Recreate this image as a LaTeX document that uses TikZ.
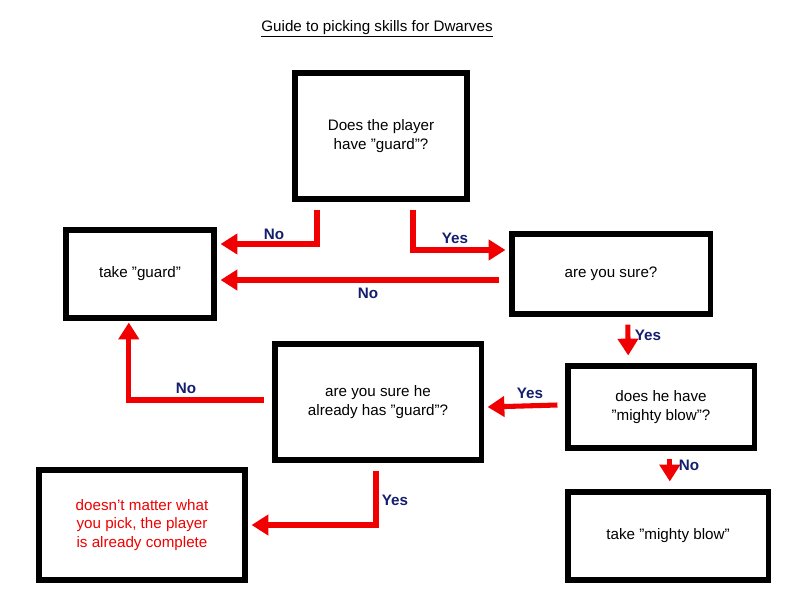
\documentclass[tikz,border=0pt]{standalone}
\usepackage{fontspec}
\setmainfont[Ligatures=TeX]{Liberation Sans}
\usetikzlibrary{arrows.meta}
\definecolor{flow-red}{RGB}{240,0,0}
\definecolor{label-blue}{RGB}{20,30,110}
\newcommand{\dq}{\symbol{34}}
\begin{document}
\begin{tikzpicture}[
    x=0.025cm, y=-0.025cm,
    question box/.style={
        draw=black,
        line width=3.6pt,
        fill=white,
        align=center,
        font=\fontsize{10.8}{13}\selectfont,
        inner sep=2pt
    },
    flow arrow/.style={
        draw=flow-red,
        line width=3.6pt,
        -{Triangle[length=0.42cm,width=0.5cm]}
    },
    answer label/.style={font=\fontsize{10.8}{13}\selectfont\bfseries, text=label-blue}
]
\useasboundingbox (0,0) rectangle (800,600);

% Title
\node[font=\fontsize{10.8}{13}\selectfont] (title) at (377,29) {\underline{Guide to picking skills for Dwarves}};

% Boxes
\node[question box, minimum width=4.3cm, minimum height=3.15cm] (start) at (381,136) {Does the player\\have \dq guard\dq?};
\node[question box, minimum width=3.7cm, minimum height=2.2cm] (guard) at (140,274) {take \dq guard\dq};
\node[question box, minimum width=4.95cm, minimum height=2.0cm] (sure) at (611,274) {are you sure?};
\node[question box, minimum width=5.15cm, minimum height=2.9cm] (surehe) at (378,402) {are you sure he\\already has \dq guard\dq?};
\node[question box, minimum width=4.65cm, minimum height=2.05cm] (blowq) at (661,407) {does he have\\\dq mighty blow\dq?};
\node[question box, minimum width=5.0cm, minimum height=2.2cm] (blow) at (668,536) {take \dq mighty blow\dq};
\node[question box, minimum width=5.15cm, minimum height=2.75cm, text=flow-red] (complete) at (142,525) {doesn't matter what\\you pick, the player\\is already complete};

% Connectors
\draw[flow arrow] ([xshift=-1.6cm,yshift=-0.2cm]start.south) |- ([xshift=0.1cm,yshift=0.75cm]guard.east);
\node[answer label] (no1) at (274,234) {No};
\draw[flow arrow] ([xshift=0.8cm,yshift=-0.2cm]start.south) |- ([xshift=-0.1cm,yshift=0.6cm]sure.west);
\node[answer label] (yes1) at (455,238) {Yes};
\draw[flow arrow] ([xshift=-0.25cm,yshift=-0.15cm]sure.west) -- ([xshift=0.1cm,yshift=-0.15cm]guard.east);
\node[answer label] (no2) at (368,293) {No};
\draw[flow arrow] ([xshift=0.42cm,yshift=-0.2cm]sure.south) -- ([xshift=-0.82cm,yshift=0.2cm]blowq.north);
\node[answer label] (yes2) at (648,335) {Yes};
\draw[flow arrow] ([xshift=-0.2cm,yshift=0.05cm]blowq.west) -- ([xshift=0.1cm]surehe.east |- blowq.west);
\node[answer label] (yes3) at (530,393) {Yes};
\draw[flow arrow] ([xshift=-0.2cm,yshift=0.05cm]surehe.west) -| ([xshift=-0.28cm,yshift=-0.05cm]guard.south);
\node[answer label] (no3) at (186,388) {No};
\draw[flow arrow] ([xshift=0.22cm,yshift=-0.2cm]blowq.south) -- ([xshift=0.22cm,yshift=0.2cm]blowq.south |- blow.north);
\node[answer label] (no4) at (689,465) {No};
\draw[flow arrow] ([xshift=-0.05cm,yshift=-0.2cm]surehe.south) |- ([xshift=0.1cm]complete.east);
\node[answer label] (yes4) at (395,500) {Yes};
\end{tikzpicture}
\end{document}
